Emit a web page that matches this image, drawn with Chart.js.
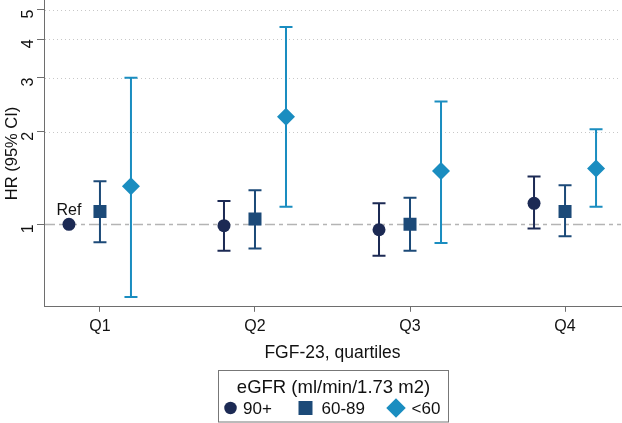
<!DOCTYPE html>
<html>
<head>
<meta charset="utf-8">
<script src="https://cdn.jsdelivr.net/npm/chart.js@4"></script>
<style>
  html, body { margin: 0; padding: 0; background: #fff; }
  #wrap { width: 622px; height: 423px; position: relative; }
</style>
</head>
<body>
<div id="wrap"><canvas id="hrChart"></canvas></div>
<script>
const quartiles = ["Q1", "Q2", "Q3", "Q4"];
const yTicks = [1, 2, 3, 4, 5];

// eGFR 90+ (Q1 is the reference, no CI)
const hr90 = [1.00, 0.99, 0.96, 1.17];
const lo90 = [null, 0.82, 0.79, 0.97];
const hi90 = [null, 1.19, 1.17, 1.43];

// eGFR 60-89
const hr6089 = [1.10, 1.04, 1.00, 1.10];
const lo6089 = [0.875, 0.835, 0.82, 0.915];
const hi6089 = [1.38, 1.29, 1.22, 1.34];

// eGFR <60
const hr60 = [1.33, 2.24, 1.49, 1.52];
const lo60 = [0.58, 1.14, 0.87, 1.14];
const hi60 = [3.00, 4.39, 2.51, 2.04];

const legendTitle = "eGFR (ml/min/1.73 m2)";

const FONT = "'Liberation Sans', Arial, sans-serif";
const AXIS = "#6e6e6e";

function points(hr, lo, hi, shift) {
  return hr.map((v, i) => ({ x: i + 1 + shift, y: v, lo: lo[i], hi: hi[i] }));
}

function series(label, hr, lo, hi, shift, color, style, radius) {
  return {
    label: label,
    data: points(hr, lo, hi, shift),
    backgroundColor: color,
    borderColor: color,
    pointStyle: style,
    pointRadius: radius,
    pointHoverRadius: radius,
    pointBorderWidth: 0,
    showLine: false,
  };
}

// dotted grid lines + dash-dot reference line at HR = 1
const gridLines = {
  id: "gridLines",
  beforeDatasetsDraw(chart) {
    const { ctx, chartArea, scales } = chart;
    ctx.save();
    scales.y.ticks.forEach(t => {
      const y = Math.round(scales.y.getPixelForValue(t.value)) + 0.5;
      ctx.beginPath();
      if (t.value === 1) {
        ctx.strokeStyle = "#b4b4b4";
        ctx.lineWidth = 1.5;
        ctx.setLineDash([10, 4, 4, 4]);
      } else {
        ctx.strokeStyle = "#c8c8c8";
        ctx.lineWidth = 1;
        ctx.setLineDash([1, 3]);
      }
      ctx.moveTo(chartArea.left + 1, y);
      ctx.lineTo(chartArea.right, y);
      ctx.stroke();
    });
    ctx.restore();
  }
};

// confidence interval whiskers
const errorBars = {
  id: "errorBars",
  beforeDatasetsDraw(chart) {
    const { ctx, scales } = chart;
    ctx.save();
    chart.data.datasets.forEach((ds, di) => {
      const meta = chart.getDatasetMeta(di);
      ctx.strokeStyle = ds.borderColor;
      ctx.lineWidth = 2;
      ds.data.forEach((p, i) => {
        if (p.lo == null || p.hi == null) return;
        const x = meta.data[i].x;
        const yl = scales.y.getPixelForValue(p.lo);
        const yh = scales.y.getPixelForValue(p.hi);
        ctx.beginPath();
        ctx.moveTo(x, yl); ctx.lineTo(x, yh);
        ctx.moveTo(x - 6.5, yl); ctx.lineTo(x + 6.5, yl);
        ctx.moveTo(x - 6.5, yh); ctx.lineTo(x + 6.5, yh);
        ctx.stroke();
      });
    });
    ctx.restore();
  }
};

const refLabel = {
  id: "refLabel",
  afterDatasetsDraw(chart) {
    const pt = chart.getDatasetMeta(0).data[0];
    const { ctx } = chart;
    ctx.save();
    ctx.fillStyle = "#111";
    ctx.font = "16px " + FONT;
    ctx.textAlign = "center";
    ctx.textBaseline = "middle";
    ctx.fillText("Ref", pt.x, pt.y - 14);
    ctx.restore();
  }
};

function drawMarker(ctx, style, x, y, size) {
  ctx.beginPath();
  if (style === "circle") {
    ctx.arc(x, y, size / 2, 0, Math.PI * 2);
  } else if (style === "rect") {
    ctx.rect(x - size / 2, y - size / 2, size, size);
  } else {
    ctx.moveTo(x, y - size / 2);
    ctx.lineTo(x + size / 2, y);
    ctx.lineTo(x, y + size / 2);
    ctx.lineTo(x - size / 2, y);
    ctx.closePath();
  }
  ctx.fill();
}

// boxed legend with a title, Stata style
// slots: marker centre and text start, relative to the box centre
const legendSlots = [
  { marker: -102.5, text: -90 },
  { marker: -27.5, text: -11.5 },
  { marker: 63, text: 78.5 },
];
const markerSize = { circle: 12.5, rect: 14, rectRot: 19.5 };

const boxLegend = {
  id: "boxLegend",
  afterDraw(chart) {
    const { ctx, chartArea } = chart;
    const cx = Math.round((chartArea.left + chartArea.right) / 2);
    const top = chart.height - 53;
    const boxW = 230;
    ctx.save();
    ctx.strokeStyle = "#777";
    ctx.lineWidth = 1;
    ctx.strokeRect(cx - boxW / 2 + 0.5, top + 0.5, boxW, chart.height - top - 1.5);

    ctx.fillStyle = "#111";
    ctx.textAlign = "center";
    ctx.textBaseline = "middle";
    ctx.font = "18.5px " + FONT;
    ctx.fillText(legendTitle, cx + 0.5, top + 18);

    const y = top + 38;
    ctx.textAlign = "left";
    ctx.font = "17px " + FONT;
    chart.data.datasets.forEach((ds, i) => {
      const slot = legendSlots[i];
      ctx.fillStyle = ds.backgroundColor;
      drawMarker(ctx, ds.pointStyle, cx + slot.marker, y, markerSize[ds.pointStyle]);
      ctx.fillStyle = "#111";
      ctx.fillText(ds.label, cx + slot.text, y + 1);
    });
    ctx.restore();
  }
};

const chart = new Chart(document.getElementById("hrChart"), {
  type: "scatter",
  data: {
    datasets: [
      series("90+", hr90, lo90, hi90, -0.2, "#1c2a54", "circle", 6.5),
      series("60-89", hr6089, lo6089, hi6089, 0, "#1c4a78", "rect", 9.2),
      series("<60", hr60, lo60, hi60, 0.2, "#1a8dc0", "rectRot", 9),
    ]
  },
  options: {
    responsive: true,
    maintainAspectRatio: false,
    animation: false,
    layout: { autoPadding: false, padding: { top: 0, right: 1, left: 0, bottom: 56 } },
    plugins: {
      tooltip: { enabled: false },
      legend: { display: false }
    },
    scales: {
      x: {
        type: "linear",
        min: 0.639,
        max: 4.361,
        afterBuildTicks: axis => { axis.ticks = quartiles.map((q, i) => ({ value: i + 1 })); },
        afterFit: axis => { axis.paddingLeft = 0; axis.paddingRight = 0; },
        ticks: {
          color: "#111",
          font: { family: FONT, size: 16 },
          padding: 5,
          callback: v => quartiles[v - 1],
        },
        grid: { drawOnChartArea: false, tickLength: 5, tickColor: AXIS, tickWidth: 1 },
        border: { color: AXIS, width: 1 },
        title: {
          display: true,
          text: "FGF-23, quartiles",
          color: "#111",
          font: { family: FONT, size: 17.5 },
          padding: { top: 2, bottom: 3 },
        }
      },
      y: {
        type: "logarithmic",
        min: 0.539,
        max: 5.37,
        afterBuildTicks: axis => { axis.ticks = yTicks.map(v => ({ value: v })); },
        afterFit: axis => { axis.width = 44; axis.paddingTop = 0; axis.paddingBottom = 0; },
        ticks: {
          color: "#111",
          font: { family: FONT, size: 16 },
          padding: 8,
          minRotation: 90,
          maxRotation: 90,
          callback: v => String(v),
        },
        grid: { drawOnChartArea: false, tickLength: 7, tickColor: AXIS, tickWidth: 1 },
        border: { color: AXIS, width: 1 },
        title: {
          display: true,
          text: "HR (95% CI)",
          color: "#111",
          font: { family: FONT, size: 16.5 },
          padding: { top: 3, bottom: 0 },
        }
      }
    }
  },
  plugins: [gridLines, errorBars, refLabel, boxLegend]
});
</script>
</body>
</html>
